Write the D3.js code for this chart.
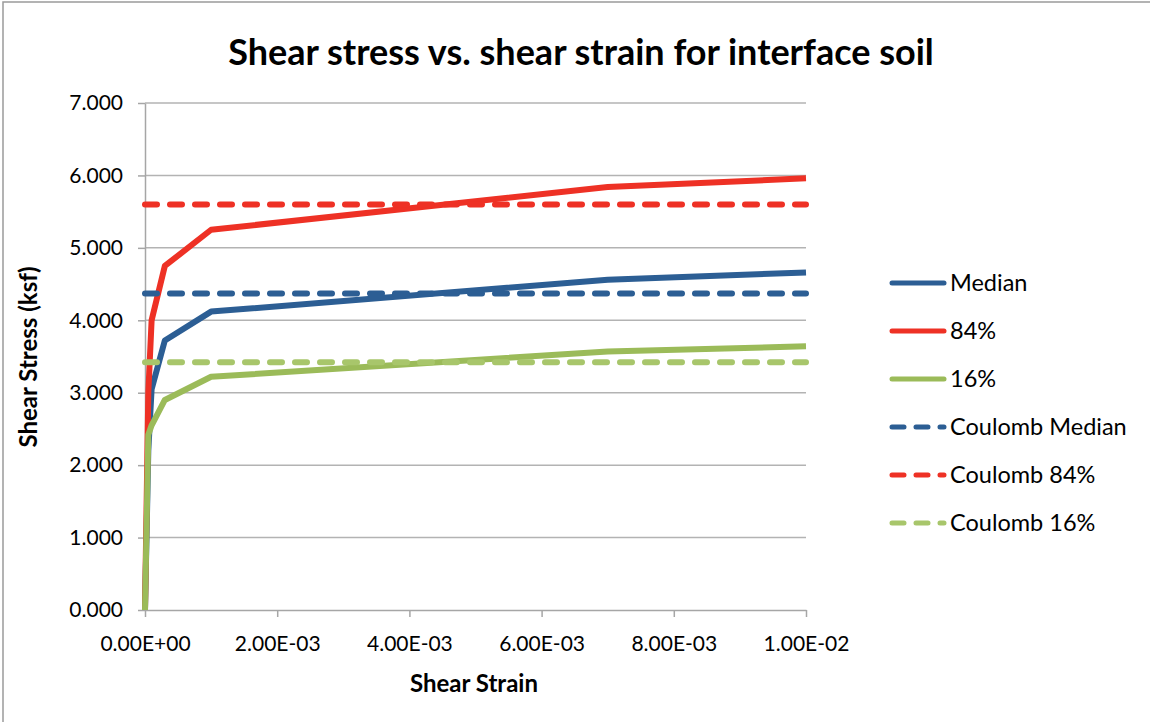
<!DOCTYPE html>
<html>
<head>
<meta charset="utf-8">
<script src="https://cdn.jsdelivr.net/npm/d3@7"></script>
<style>
  body { margin: 0; background: #fff; }
  text { font-family: Lato, "Open Sans", sans-serif; fill: #000; }
</style>
</head>
<body>
<div id="canvas"></div>
<script>
// values
const strain = [0, 5e-5, 1e-4, 3e-4, 1e-3, 7e-3, 1e-2];
const median = [0, 2.2, 3.05, 3.72, 4.12, 4.56, 4.66];
const p84 = [0, 3.0, 4.0, 4.75, 5.25, 5.84, 5.96];
const p16 = [0, 2.42, 2.55, 2.9, 3.22, 3.57, 3.64];
const coulombMedian = 4.37;
const coulomb84 = 5.6;
const coulomb16 = 3.42;
const xTicks = [0, 0.002, 0.004, 0.006, 0.008, 0.01];
const yTicks = [0, 1, 2, 3, 4, 5, 6, 7];

const series = [
  { name: "Median", values: median, color: "#2c5e94", dash: false },
  { name: "84%", values: p84, color: "#ee3125", dash: false },
  { name: "16%", values: p16, color: "#9bbb59", dash: false },
  { name: "Coulomb Median", values: strain.map(() => coulombMedian), color: "#2c5e94", dash: true },
  { name: "Coulomb 84%", values: strain.map(() => coulomb84), color: "#ee3125", dash: true },
  { name: "Coulomb 16%", values: strain.map(() => coulomb16), color: "#a8c66b", dash: true }
];

const width = 1150;
const height = 722;
const margin = { top: 103, left: 145, bottom: 112, right: 344 };
const iwidth = width - margin.left - margin.right;
const iheight = height - margin.top - margin.bottom;

const svg = d3.select("#canvas").append("svg")
  .attr("width", width)
  .attr("height", height);

// frame of the chart area (only top and left edges show)
svg.append("rect")
  .attr("x", 3).attr("y", 2)
  .attr("width", width + 20).attr("height", height + 20)
  .style("fill", "none")
  .style("stroke", "#9a9a9a")
  .style("stroke-width", 1.5);

const g = svg.append("g").attr("transform", `translate(${margin.left},${margin.top})`);

const x = d3.scaleLinear().domain([0, 0.01]).range([0, iwidth]);
const y = d3.scaleLinear().domain([0, 7]).range([iheight, 0]);

// gridlines
g.append("g")
  .selectAll("line")
  .data(yTicks.filter(d => d > 0))
  .enter().append("line")
  .attr("x1", 0).attr("x2", iwidth)
  .attr("y1", d => y(d)).attr("y2", d => y(d))
  .style("stroke", "#b3b3b3")
  .style("stroke-width", 1.5);

function expFmt(d) {
  const [m, e] = d.toExponential(2).toUpperCase().split("E");
  const sign = e[0] === "-" ? "-" : "+";
  const digits = e.replace(/[+-]/, "").padStart(2, "0");
  return `${m}E${sign}${digits}`;
}

const xAxis = g.append("g")
  .attr("transform", `translate(0,${iheight})`)
  .call(d3.axisBottom(x).tickValues(xTicks).tickFormat(expFmt).tickSize(7).tickSizeOuter(0));

const yAxis = g.append("g")
  .call(d3.axisLeft(y).tickValues(yTicks).tickFormat(d3.format(".3f")).tickSize(7).tickSizeOuter(0));

[xAxis, yAxis].forEach(a => {
  a.selectAll("path, line").style("stroke", "#a6a6a6").style("stroke-width", 1.5);
  a.selectAll("text").style("font-size", "21px").style("fill", "#000")
    .style("font-family", "Lato, sans-serif");
});
xAxis.selectAll("text").attr("y", 19).attr("dy", "1.05em");
yAxis.selectAll("text").attr("x", -22);

// lines
const line = d3.line()
  .x((d, i) => x(strain[i]))
  .y(d => y(d));

g.selectAll(".series")
  .data(series)
  .enter().append("path")
  .attr("class", "series")
  .attr("d", d => line(d.values))
  .style("fill", "none")
  .style("stroke", d => d.color)
  .style("stroke-width", 6)
  .style("stroke-linejoin", "round")
  .style("stroke-linecap", d => d.dash ? "round" : "butt")
  .style("stroke-dasharray", d => d.dash ? "12,13" : null);

// legend
const legend = svg.append("g").attr("transform", "translate(890,283)");
const rows = legend.selectAll("g")
  .data(series)
  .enter().append("g")
  .attr("transform", (d, i) => `translate(0,${i * 48})`);

rows.append("line")
  .attr("x1", 2).attr("x2", 54)
  .attr("y1", 0).attr("y2", 0)
  .style("stroke", d => d.color)
  .style("stroke-width", 5)
  .style("stroke-linecap", "round")
  .style("stroke-dasharray", d => d.dash ? "12,12" : null);

rows.append("text")
  .attr("x", 60)
  .attr("dy", "0.36em")
  .style("font-size", "23.5px")
  .text(d => d.name);

// titles
svg.append("text")
  .attr("text-anchor", "middle")
  .attr("x", 581)
  .attr("y", 65)
  .style("font-size", "36px")
  .style("font-weight", "bold")
  .text("Shear stress vs. shear strain for interface soil");

svg.append("text")
  .attr("text-anchor", "middle")
  .attr("x", 474)
  .attr("y", 692)
  .style("font-size", "24px")
  .style("font-weight", "bold")
  .text("Shear Strain");

svg.append("text")
  .attr("text-anchor", "middle")
  .attr("transform", "translate(37,357) rotate(-90)")
  .style("font-size", "24px")
  .style("font-weight", "bold")
  .text("Shear Stress (ksf)");
</script>
</body>
</html>
